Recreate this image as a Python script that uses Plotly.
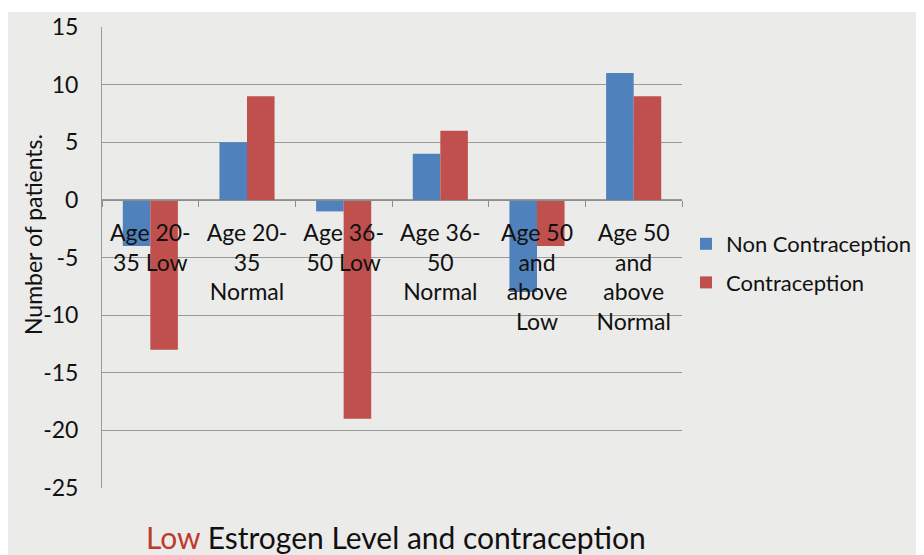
import plotly.graph_objects as go

categories = ["Age 20-<br>35 Low", "Age 20-<br>35<br>Normal", "Age 36-<br>50 Low",
              "Age 36-<br>50<br>Normal", "Age 50<br>and<br>above<br>Low", "Age 50<br>and<br>above<br>Normal"]
non_contraception = [-4, 5, -1, 4, -8, 11]
contraception = [-13, 9, -19, 6, -4, 9]
y_tick_values = [15, 10, 5, 0, -5, -10, -15, -20, -25]
y_tick_labels = ["15", "10", "5", "0", "-5", "-10", "-15", "-20", "-25"]

# page has an 8px body margin; figure coordinates = reference pixels - 8
OFF = 8
W, H = 924 - OFF, 555 - OFF
L, R, T, B = 102 - OFF, 682 - OFF, 27 - OFF, 488 - OFF
pw, ph = R - L, B - T

def px_x(p):
    return (p - OFF - L) / pw

def px_y(p):
    return (B - (p - OFF)) / ph

FONT = "Lato"
BLUE = "#4F81BD"
RED = "#C0504D"

fig = go.Figure()
fig.add_trace(go.Bar(x=categories, y=non_contraception, name="Non Contraception",
                     marker=dict(color=BLUE, line=dict(width=0)), legendgroup="a"))
fig.add_trace(go.Bar(x=categories, y=contraception, name="Contraception",
                     marker=dict(color=RED, line=dict(width=0)), legendgroup="b"))

fig.update_layout(
    width=W, height=H,
    margin=dict(l=L, r=W - R, t=T, b=H - B, pad=0, autoexpand=False),
    paper_bgcolor="white",
    plot_bgcolor="rgba(0,0,0,0)",
    barmode="group",
    bargap=0.43,
    bargroupgap=0,
    font=dict(family=FONT, color="#111111"),
    showlegend=True,
    legend=dict(x=px_x(686), y=px_y(223), xanchor="left", yanchor="top",
                font=dict(size=22, family=FONT, color="#111111"),
                bgcolor="rgba(0,0,0,0)", tracegroupgap=7, itemwidth=30),
    xaxis=dict(
        type="category", automargin=False,
        anchor="free", position=25 / 40,
        showline=True, linecolor="#8c8c8c", linewidth=1.3,
        ticks="outside", tickson="boundaries", ticklen=6, tickcolor="#8c8c8c",
        showgrid=False, zeroline=False,
        tickfont=dict(size=23, family=FONT, color="#111111"),
        ticklabelstandoff=12,
    ),
    yaxis=dict(
        range=[-25, 15], tickvals=y_tick_values, ticktext=y_tick_labels,
        automargin=False,
        showgrid=True, gridcolor="#9a9a9a", gridwidth=1,
        zeroline=False,
        showline=True, linecolor="#9a9a9a", linewidth=1,
        ticks="", tickfont=dict(size=23, family=FONT, color="#111111"),
        ticklabelstandoff=18,
    ),
    shapes=[dict(type="rect", xref="paper", yref="paper",
                 x0=px_x(8), x1=px_x(930), y0=px_y(560), y1=px_y(12),
                 fillcolor="#ebebea", line=dict(width=0), layer="below")],
    annotations=[
        dict(text="Number of patients.", xref="paper", yref="paper",
             x=px_x(33), y=px_y(235), textangle=-90, showarrow=False,
             font=dict(size=23, family=FONT, color="#111111"),
             xanchor="center", yanchor="middle"),
        dict(text="<span style='color:#C0392B'>Low</span> Estrogen Level and contraception",
             xref="paper", yref="paper", x=px_x(396), y=px_y(537), showarrow=False,
             font=dict(size=30, family=FONT, color="#111111"),
             xanchor="center", yanchor="middle"),
    ],
)

fig.write_html("out.html")
